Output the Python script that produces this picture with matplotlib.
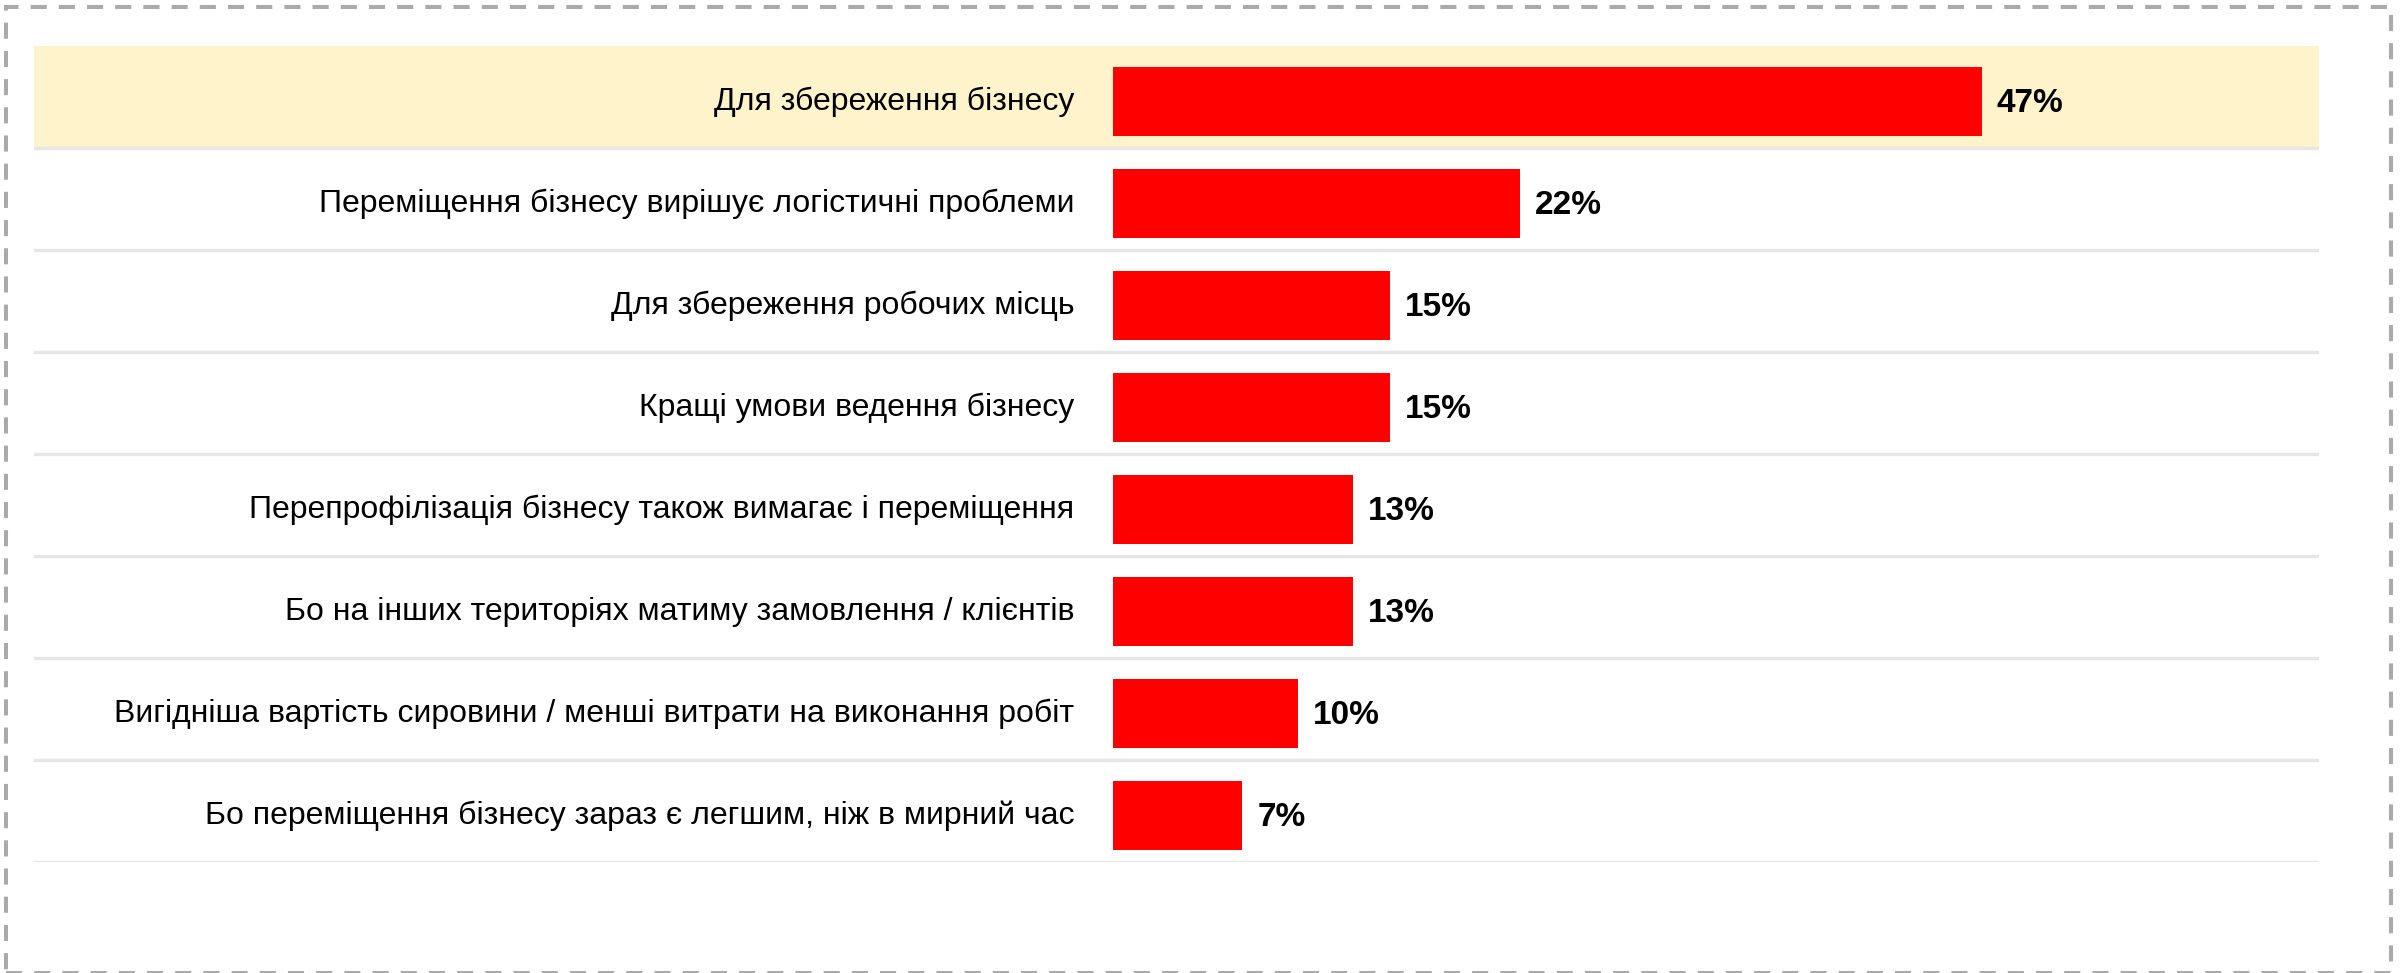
import matplotlib
matplotlib.use('Agg')
import matplotlib.pyplot as plt
from matplotlib.patches import Rectangle

plt.rcParams['font.family'] = ['Liberation Sans', 'DejaVu Sans']

# data
categories = [
    'Для збереження бізнесу',
    'Переміщення бізнесу вирішує логістичні проблеми',
    'Для збереження робочих місць',
    'Кращі умови ведення бізнесу',
    'Перепрофілізація бізнесу також вимагає і переміщення',
    'Бо на інших територіях матиму замовлення / клієнтів',
    'Вигідніша вартість сировини / менші витрати на виконання робіт',
    'Бо переміщення бізнесу зараз є легшим, ніж в мирний час',
]
values = [47, 22, 15, 15, 13, 13, 10, 7]
highlight = 0

W, H = 2405, 973
fig = plt.figure(figsize=(W / 100, H / 100), dpi=100)
fig.patch.set_facecolor('white')

# pixel layout of the plot area
x0, x1 = 34, 2319
y_top, y_bot = 46, 862
bar_x = 1113
px_per_unit = 18.49

ax = fig.add_axes([x0 / W, 1 - y_bot / H, (x1 - x0) / W, (y_bot - y_top) / H])
ax.set_xlim(-(bar_x - x0) / px_per_unit, (x1 - bar_x) / px_per_unit)
n = len(categories)
ax.set_ylim(n - 0.5, -0.5)
ax.axis('off')

ax.axhspan(highlight - 0.5, highlight + 0.5, color='#fff3cc', zorder=0)
for i in range(n):
    ax.axhline(i + 0.5, color='#e6e6e6', lw=2.4, zorder=1)

pos = [i + 0.045 for i in range(n)]
ax.barh(pos, values, height=0.68, left=0, color='#ff0000', zorder=2)

for p, cat, v in zip(pos, categories, values):
    ax.text(-2.1, p, cat, ha='right', va='center', fontsize=23, color='#000000')
    ax.text(v + 0.8, p + 0.02, f'{v}%', ha='left', va='center', fontsize=24,
            fontweight='bold', color='#000000')

# dashed frame (bottom edge sits right on the image border)
fig.patches.append(Rectangle((5.5 / W, 0.5 / H), (2390.5 - 5.5) / W, (966.5 - 0.5) / H,
                             transform=fig.transFigure, fill=False,
                             edgecolor='#aaaaaa', lw=2.9, linestyle=(0, (4, 3))))

fig.savefig('out.png', dpi=100)
